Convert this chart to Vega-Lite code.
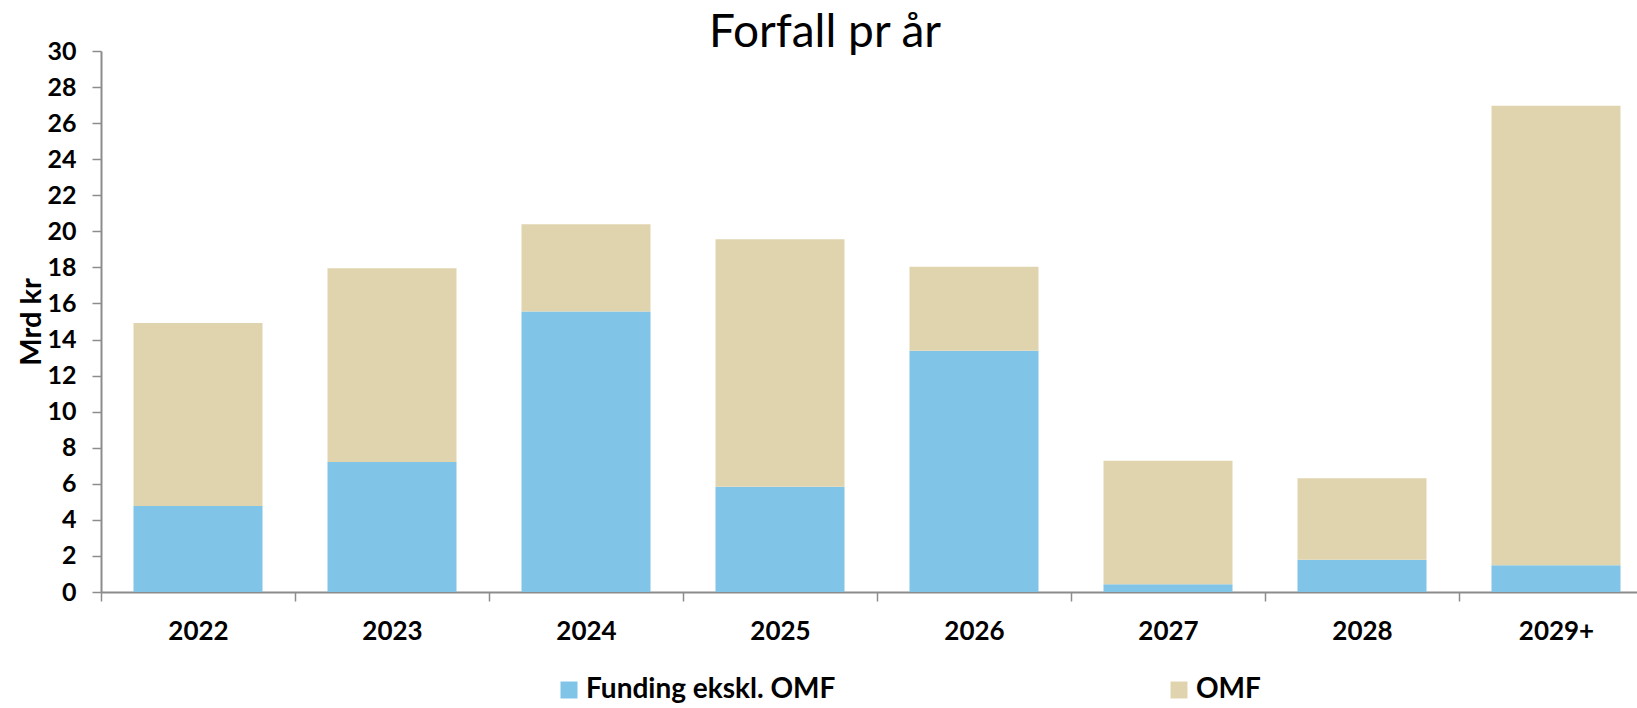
{
  "$schema": "https://vega.github.io/schema/vega-lite/v6.json",
  "autosize": {"type": "none"},
  "padding": {"left": 101, "top": 51, "right": 0, "bottom": 116},
  "width": 1536,
  "height": 541,
  "background": "white",
  "title": {
    "text": "Forfall pr år",
    "font": "Lato",
    "fontSize": 46,
    "fontWeight": "normal",
    "color": "black",
    "anchor": "middle",
    "frame": "group",
    "dx": -44,
    "dy": 18,
    "offset": 0
  },
  "config": {"view": {"stroke": null}},
  "data": {
    "values": [
      {"year": "2022", "series": "Funding ekskl. OMF", "value": 4.77},
      {"year": "2022", "series": "OMF", "value": 10.15},
      {"year": "2023", "series": "Funding ekskl. OMF", "value": 7.21},
      {"year": "2023", "series": "OMF", "value": 10.74},
      {"year": "2024", "series": "Funding ekskl. OMF", "value": 15.55},
      {"year": "2024", "series": "OMF", "value": 4.84},
      {"year": "2025", "series": "Funding ekskl. OMF", "value": 5.84},
      {"year": "2025", "series": "OMF", "value": 13.72},
      {"year": "2026", "series": "Funding ekskl. OMF", "value": 13.38},
      {"year": "2026", "series": "OMF", "value": 4.66},
      {"year": "2027", "series": "Funding ekskl. OMF", "value": 0.43},
      {"year": "2027", "series": "OMF", "value": 6.85},
      {"year": "2028", "series": "Funding ekskl. OMF", "value": 1.79},
      {"year": "2028", "series": "OMF", "value": 4.52},
      {"year": "2029+", "series": "Funding ekskl. OMF", "value": 1.48},
      {"year": "2029+", "series": "OMF", "value": 25.48}
    ]
  },
  "mark": {"type": "bar", "clip": true},
  "encoding": {
    "x": {
      "field": "year",
      "type": "nominal",
      "sort": null,
      "scale": {"range": [0, 1552], "paddingInner": 0.335, "paddingOuter": 0.1675},
      "axis": {
        "title": null,
        "labelAngle": 0,
        "labelFont": "Lato",
        "labelFontSize": 26,
        "labelFontWeight": "bold",
        "labelColor": "black",
        "labelPadding": 17,
        "domainColor": "#8c8c8c",
        "domainWidth": 2,
        "tickColor": "#8c8c8c",
        "tickWidth": 1.5,
        "tickSize": 9,
        "tickOffset": -97,
        "labelOffset": 97,
        "grid": false
      }
    },
    "y": {
      "field": "value",
      "type": "quantitative",
      "stack": "zero",
      "scale": {"domain": [0, 30], "nice": false},
      "axis": {
        "title": "Mrd kr",
        "titleFont": "Lato",
        "titleFontSize": 29,
        "titleFontWeight": "bold",
        "titleColor": "black",
        "titlePadding": 0,
        "values": [0, 2, 4, 6, 8, 10, 12, 14, 16, 18, 20, 22, 24, 26, 28, 30],
        "labelFont": "Lato",
        "labelFontSize": 25,
        "labelFontWeight": "bold",
        "labelColor": "black",
        "labelPadding": 16,
        "domainColor": "#8c8c8c",
        "domainWidth": 2,
        "tickColor": "#8c8c8c",
        "tickWidth": 1.5,
        "tickSize": 9,
        "grid": false
      }
    },
    "order": {"field": "series", "type": "nominal", "sort": "ascending"},
    "color": {
      "field": "series",
      "type": "nominal",
      "scale": {"domain": ["Funding ekskl. OMF", "OMF"], "range": ["#80C4E8", "#E0D4AE"]},
      "legend": {
        "title": null,
        "orient": "none",
        "legendX": 454,
        "legendY": 625,
        "direction": "horizontal",
        "symbolType": "square",
        "symbolSize": 289,
        "symbolStrokeWidth": 0,
        "labelFont": "Lato",
        "labelFontSize": 28,
        "labelFontWeight": "bold",
        "labelColor": "black",
        "labelOffset": 3,
        "labelLimit": 500,
        "columnPadding": 329
      }
    }
  }
}
